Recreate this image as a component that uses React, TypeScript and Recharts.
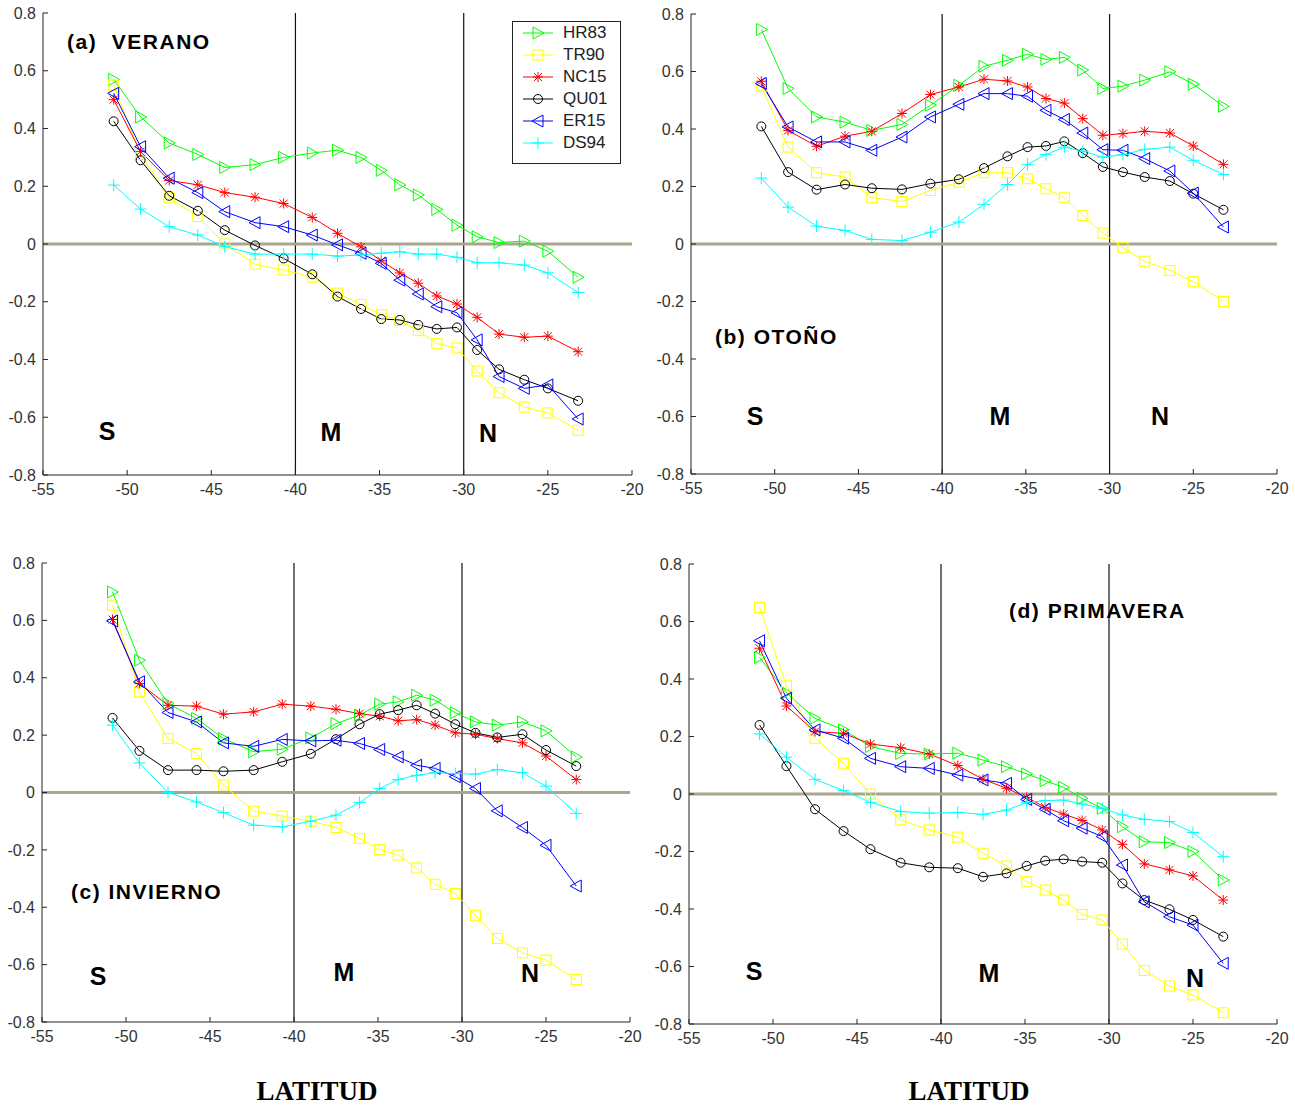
import React from "react";
import { LineChart, Line, XAxis, YAxis, ReferenceLine, Legend } from "recharts";

// latitudes of the stations (same for every season)
const LAT = [-50.8, -49.2, -47.5, -45.8, -44.2, -42.4, -40.7, -39.0, -37.5, -36.1, -34.9, -33.8, -32.7, -31.6, -30.4, -29.2, -27.9, -26.4, -25.0, -23.2];
const X_TICKS = [-55, -50, -45, -40, -35, -30, -25, -20];
const Y_TICKS = [-0.8, -0.6, -0.4, -0.2, 0, 0.2, 0.4, 0.6, 0.8];

// (a) verano
const VER_HR83 = [0.57, 0.44, 0.35, 0.31, 0.265, 0.275, 0.3, 0.315, 0.325, 0.3, 0.255, 0.205, 0.17, 0.12, 0.065, 0.025, 0.005, 0.01, -0.025, -0.115];
const VER_TR90 = [0.55, 0.31, 0.16, 0.095, 0.0, -0.07, -0.09, -0.115, -0.17, -0.21, -0.245, -0.265, -0.3, -0.345, -0.36, -0.44, -0.515, -0.565, -0.585, -0.645];
const VER_NC15 = [0.5, 0.32, 0.22, 0.205, 0.178, 0.162, 0.14, 0.092, 0.037, -0.01, -0.058, -0.1, -0.136, -0.18, -0.208, -0.254, -0.312, -0.323, -0.319, -0.373];
const VER_QU01 = [0.425, 0.29, 0.167, 0.115, 0.048, -0.005, -0.05, -0.105, -0.182, -0.225, -0.26, -0.263, -0.28, -0.294, -0.289, -0.367, -0.434, -0.47, -0.5, -0.543];
const VER_ER15 = [0.522, 0.337, 0.228, 0.178, 0.112, 0.074, 0.06, 0.031, -0.003, -0.032, -0.067, -0.125, -0.173, -0.217, -0.238, -0.332, -0.459, -0.5, -0.488, -0.606];
const VER_DS94 = [0.204, 0.121, 0.06, 0.031, -0.009, -0.035, -0.035, -0.035, -0.042, -0.038, -0.032, -0.027, -0.035, -0.035, -0.046, -0.065, -0.065, -0.073, -0.1, -0.168];

// (b) otoño
const OTO_HR83 = [0.746, 0.541, 0.442, 0.424, 0.395, 0.416, 0.483, 0.552, 0.618, 0.639, 0.66, 0.642, 0.649, 0.605, 0.541, 0.549, 0.57, 0.599, 0.556, 0.479];
const OTO_TR90 = [0.549, 0.337, 0.248, 0.233, 0.161, 0.148, 0.186, 0.215, 0.248, 0.248, 0.227, 0.192, 0.161, 0.099, 0.038, -0.013, -0.06, -0.092, -0.131, -0.2];
const OTO_NC15 = [0.566, 0.395, 0.34, 0.375, 0.392, 0.454, 0.52, 0.546, 0.573, 0.567, 0.546, 0.506, 0.49, 0.436, 0.378, 0.384, 0.392, 0.386, 0.341, 0.277];
const OTO_QU01 = [0.409, 0.25, 0.189, 0.207, 0.194, 0.19, 0.21, 0.225, 0.264, 0.305, 0.337, 0.341, 0.357, 0.316, 0.268, 0.25, 0.233, 0.219, 0.175, 0.119];
const OTO_ER15 = [0.558, 0.407, 0.355, 0.355, 0.326, 0.372, 0.442, 0.486, 0.523, 0.523, 0.514, 0.465, 0.433, 0.386, 0.328, 0.326, 0.297, 0.254, 0.177, 0.059];
const OTO_DS94 = [0.229, 0.128, 0.062, 0.047, 0.016, 0.012, 0.041, 0.076, 0.138, 0.207, 0.277, 0.311, 0.337, 0.323, 0.302, 0.311, 0.329, 0.337, 0.291, 0.242];

// (c) invierno
const INV_HR83 = [0.699, 0.461, 0.31, 0.258, 0.188, 0.142, 0.151, 0.19, 0.24, 0.27, 0.308, 0.316, 0.339, 0.322, 0.278, 0.246, 0.235, 0.246, 0.215, 0.124];
const INV_TR90 = [0.653, 0.351, 0.188, 0.136, 0.026, -0.065, -0.082, -0.1, -0.122, -0.16, -0.199, -0.218, -0.263, -0.32, -0.352, -0.428, -0.509, -0.559, -0.584, -0.652];
const INV_NC15 = [0.603, 0.38, 0.304, 0.301, 0.273, 0.281, 0.308, 0.301, 0.29, 0.275, 0.266, 0.25, 0.254, 0.235, 0.208, 0.203, 0.188, 0.173, 0.127, 0.045];
const INV_QU01 = [0.26, 0.145, 0.078, 0.078, 0.074, 0.078, 0.107, 0.135, 0.186, 0.238, 0.273, 0.287, 0.304, 0.275, 0.238, 0.208, 0.192, 0.203, 0.148, 0.092];
const INV_ER15 = [0.598, 0.386, 0.279, 0.246, 0.173, 0.161, 0.185, 0.18, 0.182, 0.171, 0.15, 0.124, 0.095, 0.084, 0.055, 0.014, -0.064, -0.122, -0.184, -0.326];
const INV_DS94 = [0.235, 0.103, 0.0, -0.033, -0.07, -0.114, -0.12, -0.1, -0.079, -0.035, 0.014, 0.045, 0.06, 0.069, 0.066, 0.064, 0.08, 0.069, 0.022, -0.073];

// (d) primavera
const PRI_HR83 = [0.475, 0.352, 0.263, 0.223, 0.165, 0.141, 0.139, 0.142, 0.118, 0.095, 0.07, 0.046, 0.023, -0.015, -0.05, -0.114, -0.166, -0.169, -0.2, -0.299];
const PRI_TR90 = [0.649, 0.376, 0.194, 0.107, 0.0, -0.09, -0.125, -0.15, -0.206, -0.25, -0.305, -0.334, -0.369, -0.419, -0.438, -0.522, -0.614, -0.668, -0.699, -0.761];
const PRI_NC15 = [0.507, 0.306, 0.217, 0.211, 0.174, 0.161, 0.139, 0.099, 0.051, 0.02, -0.012, -0.046, -0.07, -0.092, -0.125, -0.175, -0.243, -0.264, -0.285, -0.369];
const PRI_QU01 = [0.24, 0.097, -0.053, -0.129, -0.192, -0.239, -0.255, -0.258, -0.288, -0.276, -0.25, -0.232, -0.227, -0.235, -0.239, -0.311, -0.369, -0.401, -0.438, -0.496];
const PRI_ER15 = [0.533, 0.333, 0.223, 0.194, 0.124, 0.095, 0.089, 0.066, 0.049, 0.037, -0.019, -0.053, -0.093, -0.119, -0.148, -0.247, -0.375, -0.427, -0.456, -0.589];
const PRI_DS94 = [0.209, 0.128, 0.051, 0.012, -0.029, -0.061, -0.067, -0.064, -0.071, -0.056, -0.03, -0.023, -0.021, -0.035, -0.05, -0.073, -0.088, -0.096, -0.134, -0.218];

const SERIES = [
  { key: "HR83", color: "#00ff00", shape: "triR" },
  { key: "TR90", color: "#ffff00", shape: "square" },
  { key: "NC15", color: "#ff0000", shape: "star" },
  { key: "QU01", color: "#000000", shape: "circle" },
  { key: "ER15", color: "#0000ff", shape: "triL" },
  { key: "DS94", color: "#00ffff", shape: "plus" },
];

const AX = "#222";
const ZERO = "#a8a68c";

function Marker({ shape, cx, cy, color }: any) {
  if (cx == null || cy == null) return null;
  const s = 5;
  switch (shape) {
    case "triR":
      return <polygon points={`${cx - s},${cy - s - 1} ${cx - s},${cy + s + 1} ${cx + s + 1},${cy}`} fill="none" stroke={color} />;
    case "triL":
      return <polygon points={`${cx + s},${cy - s - 1} ${cx + s},${cy + s + 1} ${cx - s - 1},${cy}`} fill="none" stroke={color} />;
    case "square":
      return <rect x={cx - s} y={cy - s} width={2 * s} height={2 * s} fill="none" stroke={color} />;
    case "circle":
      return <circle cx={cx} cy={cy} r={4.5} fill="none" stroke={color} />;
    case "plus":
      return (
        <g stroke={color}>
          <line x1={cx - 6} x2={cx + 6} y1={cy} y2={cy} />
          <line x1={cx} x2={cx} y1={cy - 6} y2={cy + 6} />
        </g>
      );
    case "star":
      return (
        <g stroke={color}>
          <line x1={cx - 5} x2={cx + 5} y1={cy} y2={cy} />
          <line x1={cx} x2={cx} y1={cy - 5} y2={cy + 5} />
          <line x1={cx - 4} x2={cx + 4} y1={cy - 4} y2={cy + 4} />
          <line x1={cx - 4} x2={cx + 4} y1={cy + 4} y2={cy - 4} />
        </g>
      );
  }
  return null;
}

const dotFor = (shape: string, color: string) => (p: any) => (
  <g key={`${shape}-${p.index}`}>
    <Marker shape={shape} cx={p.cx} cy={p.cy} color={color} />
  </g>
);

const fmtY = (v: number) => (v === 0 ? "0" : String(v));

function buildRows(cols: number[][]) {
  return LAT.map((lat, i) => {
    const row: any = { lat };
    SERIES.forEach((s, j) => (row[s.key] = cols[j][i]));
    return row;
  });
}

function LegendBox() {
  return (
    <div style={{ border: "1.5px solid #222", background: "#fff", width: 109, height: 143, boxSizing: "border-box" }}>
      {SERIES.map((s) => (
        <div key={s.key} style={{ display: "flex", alignItems: "center", height: 22 }}>
          <svg width={50} height={22}>
            <line x1={10} x2={40} y1={11} y2={11} stroke={s.color} />
            <Marker shape={s.shape} cx={25} cy={11} color={s.color} />
          </svg>
          <span style={{ fontSize: 17, color: "#222", lineHeight: "22px" }}>{s.key}</span>
        </div>
      ))}
    </div>
  );
}

function Panel({ box, cols, legend }: any) {
  const data = buildRows(cols);
  const tickStyle = { fill: "#333", fontSize: 16 };
  return (
    <div style={{ position: "absolute", left: box.left, top: box.top }}>
      <LineChart width={box.w} height={box.h} data={data} margin={{ top: box.mt, right: box.mr, left: 0, bottom: 0 }}>
        <XAxis dataKey="lat" type="number" domain={[-55, -20]} ticks={X_TICKS} interval={0} height={box.xh} tickSize={-5} tickMargin={14} stroke={AX} tick={tickStyle} />
        <XAxis xAxisId="top" orientation="top" type="number" domain={[-55, -20]} ticks={X_TICKS} interval={0} height={0} tickSize={-5} tick={false} stroke={AX} />
        <YAxis type="number" domain={[-0.8, 0.8]} ticks={Y_TICKS} interval={0} width={box.yw} tickSize={-5} tickMargin={12} stroke={AX} tick={tickStyle} tickFormatter={fmtY} />
        <YAxis yAxisId="right" orientation="right" type="number" domain={[-0.8, 0.8]} ticks={Y_TICKS} interval={0} width={0} tickSize={-5} tick={false} stroke={AX} />
        <ReferenceLine x={-40} stroke="#111" strokeWidth={1.2} />
        <ReferenceLine x={-30} stroke="#111" strokeWidth={1.2} />
        <ReferenceLine y={0} stroke={ZERO} strokeWidth={3} />
        {SERIES.map((s) => (
          <Line
            key={s.key}
            dataKey={s.key}
            stroke={s.color}
            strokeWidth={1}
            dot={dotFor(s.shape, s.color)}
            activeDot={false}
            isAnimationActive={false}
          />
        ))}
        {legend && (
          <Legend
            layout="horizontal"
            verticalAlign="middle"
            align="center"
            wrapperStyle={{ left: 512, top: 21, width: 109, height: 143 }}
            content={() => <LegendBox />}
          />
        )}
      </LineChart>
    </div>
  );
}

function Tag({ x, y, size = 25, left, children }: any) {
  return (
    <div
      style={{
        position: "absolute",
        left: x,
        top: y,
        transform: left ? "translateY(-50%)" : "translate(-50%, -50%)",
        fontWeight: "bold",
        fontSize: size,
        letterSpacing: left ? 1.5 : 0,
        whiteSpace: "pre",
        color: "#000",
        lineHeight: 1,
      }}
    >
      {children}
    </div>
  );
}

// chart boxes in page pixels; plot areas line up with the reference frames
const BOX_A = { left: 0, top: 0, w: 652, h: 500, mt: 13, mr: 20, yw: 43, xh: 25 };
const BOX_B = { left: 640, top: 0, w: 655, h: 500, mt: 14, mr: 18, yw: 51, xh: 26 };
const BOX_C = { left: 0, top: 540, w: 652, h: 510, mt: 23, mr: 22, yw: 42, xh: 28 };
const BOX_D = { left: 640, top: 540, w: 655, h: 510, mt: 24, mr: 18, yw: 49, xh: 26 };

export default function App() {
  return (
    <div style={{ position: "absolute", left: 0, top: 0, width: 1295, height: 1106, background: "#fff", fontFamily: "'Liberation Sans', Arial, sans-serif" }}>
      <Panel box={BOX_A} cols={[VER_HR83, VER_TR90, VER_NC15, VER_QU01, VER_ER15, VER_DS94]} legend />
      <Panel box={BOX_B} cols={[OTO_HR83, OTO_TR90, OTO_NC15, OTO_QU01, OTO_ER15, OTO_DS94]} />
      <Panel box={BOX_C} cols={[INV_HR83, INV_TR90, INV_NC15, INV_QU01, INV_ER15, INV_DS94]} />
      <Panel box={BOX_D} cols={[PRI_HR83, PRI_TR90, PRI_NC15, PRI_QU01, PRI_ER15, PRI_DS94]} />

      <Tag x={67} y={41} size={21} left>{"(a)  VERANO"}</Tag>
      <Tag x={107} y={431}>S</Tag>
      <Tag x={331} y={432}>M</Tag>
      <Tag x={488} y={433}>N</Tag>

      <Tag x={715} y={336} size={21} left>(b) OTOÑO</Tag>
      <Tag x={755} y={416}>S</Tag>
      <Tag x={1000} y={416}>M</Tag>
      <Tag x={1160} y={416}>N</Tag>

      <Tag x={71} y={891} size={21} left>(c) INVIERNO</Tag>
      <Tag x={98} y={976}>S</Tag>
      <Tag x={344} y={972}>M</Tag>
      <Tag x={530} y={973}>N</Tag>

      <Tag x={1009} y={610} size={21} left>(d) PRIMAVERA</Tag>
      <Tag x={754} y={971}>S</Tag>
      <Tag x={989} y={973}>M</Tag>
      <Tag x={1195} y={978}>N</Tag>

      {[317, 969].map((x) => (
        <div
          key={x}
          style={{ position: "absolute", left: x, top: 1091, transform: "translate(-50%, -50%)", fontFamily: "'Liberation Serif', 'Times New Roman', serif", fontWeight: "bold", fontSize: 27, lineHeight: 1 }}
        >
          LATITUD
        </div>
      ))}
    </div>
  );
}
